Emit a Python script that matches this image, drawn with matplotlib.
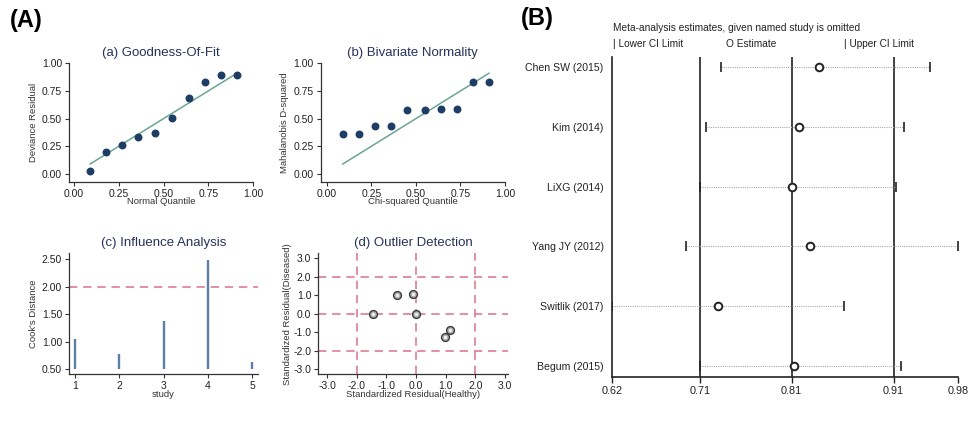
import matplotlib
matplotlib.use("Agg")
import matplotlib.pyplot as plt
import numpy as np

plt.rcParams['font.family'] = ['Liberation Sans', 'DejaVu Sans']

# ---------------- data ----------------
# (a) Goodness-of-fit
gof_x = [0.09, 0.18, 0.27, 0.36, 0.45, 0.55, 0.64, 0.73, 0.82, 0.91]
gof_y = [0.03, 0.20, 0.26, 0.33, 0.37, 0.51, 0.69, 0.83, 0.89, 0.89]
# (b) Bivariate normality
bvn_x = [0.09, 0.18, 0.27, 0.36, 0.45, 0.55, 0.64, 0.73, 0.82, 0.91]
bvn_y = [0.36, 0.36, 0.43, 0.43, 0.58, 0.58, 0.59, 0.59, 0.83, 0.83]
# (c) Influence analysis
study = [1, 2, 3, 4, 5]
cooks = [1.06, 0.77, 1.38, 2.49, 0.64]
cooks_base = 0.5
cooks_thresh = 2.0
# (d) Outlier detection
res_healthy = [-1.44, -0.64, -0.09, 0.0, 1.14, 0.97]
res_diseased = [0.0, 1.03, 1.05, 0.0, -0.87, -1.29]
outlier_lines = [-2.0, 0.0, 2.0]
# (B) Sensitivity analysis
studies = ["Chen SW (2015)", "Kim (2014)", "LiXG (2014)",
           "Yang JY (2012)", "Switlik (2017)", "Begum (2015)"]
est = [0.835, 0.815, 0.807, 0.826, 0.730, 0.809]
lower = [0.733, 0.718, 0.712, 0.697, 0.620, 0.712]
upper = [0.951, 0.924, 0.916, 0.980, 0.861, 0.921]
ref_lines = [0.712, 0.807, 0.913]
b_ticks = [0.62, 0.712, 0.807, 0.913, 0.98]
b_ticklabels = ["0.62", "0.71", "0.81", "0.91", "0.98"]

# ---------------- figure ----------------
W, H = 973, 422
fig = plt.figure(figsize=(W / 100, H / 100), dpi=100)
fig.patch.set_facecolor("white")


def ax_px(l, t, r, b):
    return fig.add_axes([l / W, 1 - b / H, (r - l) / W, (b - t) / H])


title_col = "#27315c"
axis_col = "#333333"
navy = "#1d3d66"
teal = "#6aa594"
pink = "#dd7d91"
steel = "#5b7fa6"


def style(ax, fs=7.5):
    for s in ["top", "right"]:
        ax.spines[s].set_visible(False)
    for s in ["left", "bottom"]:
        ax.spines[s].set_color(axis_col)
        ax.spines[s].set_linewidth(0.9)
    ax.tick_params(axis="both", colors=axis_col, labelsize=fs, length=3,
                   width=0.8, pad=2, labelcolor="#222222")
    ax.set_facecolor("white")


# (a)
ax = ax_px(69, 63.3, 253, 181.7)
style(ax)
ax.scatter(gof_x, gof_y, s=22, color=navy, zorder=3)
ax.plot([gof_x[0], gof_x[-1]], [gof_x[0], gof_x[-1]], color=teal, lw=1.1)
ax.set_xlim(-0.028, 1.0)
ax.set_ylim(-0.07, 1.0)
ax.set_xticks([0, 0.25, 0.5, 0.75, 1.0])
ax.set_yticks([0, 0.25, 0.5, 0.75, 1.0])
ax.set_xticklabels(["0.00", "0.25", "0.50", "0.75", "1.00"])
ax.set_yticklabels(["0.00", "0.25", "0.50", "0.75", "1.00"])
ax.set_xlabel("Normal Quantile", fontsize=6.8, labelpad=-1, color="#333333")
ax.set_ylabel("Deviance Residual", fontsize=6.8, labelpad=3, color="#333333")
ax.set_title("(a) Goodness-Of-Fit", fontsize=9.5, color=title_col, pad=5)

# (b)
ax = ax_px(320.7, 63.3, 505, 181.7)
style(ax)
ax.scatter(bvn_x, bvn_y, s=22, color=navy, zorder=3)
ax.plot([bvn_x[0], bvn_x[-1]], [bvn_x[0], bvn_x[-1]], color=teal, lw=1.1)
ax.set_xlim(-0.034, 1.0)
ax.set_ylim(-0.07, 1.0)
ax.set_xticks([0, 0.25, 0.5, 0.75, 1.0])
ax.set_yticks([0, 0.25, 0.5, 0.75, 1.0])
ax.set_xticklabels(["0.00", "0.25", "0.50", "0.75", "1.00"])
ax.set_yticklabels(["0.00", "0.25", "0.50", "0.75", "1.00"])
ax.set_xlabel("Chi-squared Quantile", fontsize=6.8, labelpad=-1, color="#333333")
ax.set_ylabel("Mahalanobis D-squared", fontsize=6.8, labelpad=3, color="#333333")
ax.set_title("(b) Bivariate Normality", fontsize=9.5, color=title_col, pad=5)

# (c)
ax = ax_px(69, 252.7, 258, 374)
style(ax)
ax.vlines(study, cooks_base, cooks, color=steel, lw=1.7)
ax.axhline(cooks_thresh, color=pink, lw=1.2, ls=(0, (5, 3.5)))
ax.set_xlim(0.865, 5.13)
ax.set_ylim(0.415, 2.62)
ax.set_xticks(study)
ax.set_yticks([0.5, 1.0, 1.5, 2.0, 2.5])
ax.set_yticklabels(["0.50", "1.00", "1.50", "2.00", "2.50"])
ax.set_xlabel("study", fontsize=6.8, labelpad=-1, color="#333333")
ax.set_ylabel("Cook's Distance", fontsize=6.8, labelpad=3, color="#333333")
ax.set_title("(c) Influence Analysis", fontsize=9.5, color=title_col, pad=5)

# (d)
ax = ax_px(318.3, 253.3, 508, 374)
style(ax)
for v in outlier_lines:
    ax.axhline(v, color=pink, lw=1.2, ls=(0, (5, 3.5)), zorder=1)
    ax.axvline(v, color=pink, lw=1.2, ls=(0, (5, 3.5)), zorder=1)
ax.scatter(res_healthy, res_diseased, s=32, facecolor="#b0b0b0",
           edgecolor="#3a3a3a", lw=1.0, zorder=3)
ax.scatter(res_healthy, res_diseased, s=2, color="#f0f0f0", zorder=4)
ax.set_xlim(-3.30, 3.10)
ax.set_ylim(-3.27, 3.27)
ticks = [-3, -2, -1, 0, 1, 2, 3]
ax.set_xticks(ticks)
ax.set_yticks(ticks)
ax.set_xticklabels(["%.1f" % t for t in ticks])
ax.set_yticklabels(["%.1f" % t for t in ticks])
ax.set_xlabel("Standardized Residual(Healthy)", fontsize=6.8, labelpad=-1,
              color="#333333")
ax.set_ylabel("Standardized Residual(Diseased)", fontsize=6.8, labelpad=1,
              color="#333333")
ax.set_title("(d) Outlier Detection", fontsize=9.5, color=title_col, pad=5)

# panel letters
fig.text(10 / W, 1 - 20 / H, "(A)", fontsize=17, fontweight="bold",
         va="center", ha="left")
fig.text(521 / W, 1 - 18 / H, "(B)", fontsize=17, fontweight="bold",
         va="center", ha="left")

# (B)
narrow = ['Liberation Sans Narrow', 'Liberation Sans', 'DejaVu Sans']
axb = ax_px(612, 57, 958, 376.7)
for s in ["top", "right"]:
    axb.spines[s].set_visible(False)
for s in ["left", "bottom"]:
    axb.spines[s].set_color("#222222")
    axb.spines[s].set_linewidth(1.2)
ypos = np.arange(len(studies), 0, -1)
for v in ref_lines:
    axb.axvline(v, color="#222222", lw=1.2, zorder=1)
axb.hlines(ypos, lower, upper, color="#aaaaaa", lw=0.8, ls=(0, (1, 1)), zorder=2)
axb.scatter(lower, ypos, marker="|", s=60, color="#222222", lw=1.2, zorder=3)
axb.scatter(upper, ypos, marker="|", s=60, color="#222222", lw=1.2, zorder=3)
axb.scatter(est, ypos, marker="o", s=30, facecolor="white",
            edgecolor="#222222", lw=1.4, zorder=4)
axb.set_xlim(0.62, 0.98)
axb.set_ylim(0.82, 6.17)
axb.set_yticks(ypos)
axb.set_yticklabels(studies, family=narrow, fontsize=7.6)
axb.set_xticks(b_ticks)
axb.set_xticklabels(b_ticklabels, family=narrow, fontsize=7.8)
axb.tick_params(axis="y", length=0, pad=6, colors="#222222")
axb.tick_params(axis="x", length=4, width=1.0, pad=3, colors="#222222")

fs_leg = 7.3
fig.text(613 / W, 1 - 28 / H,
         "Meta-analysis estimates, given named study is omitted",
         family=narrow, fontsize=fs_leg, va="center", ha="left", color="#222222")
fig.text(613 / W, 1 - 44 / H, "| Lower CI Limit", family=narrow, fontsize=fs_leg,
         va="center", ha="left", color="#222222")
fig.text(726 / W, 1 - 44 / H, "O Estimate", family=narrow, fontsize=fs_leg,
         va="center", ha="left", color="#222222")
fig.text(844 / W, 1 - 44 / H, "| Upper CI Limit", family=narrow, fontsize=fs_leg,
         va="center", ha="left", color="#222222")

fig.savefig("out.png", dpi=100, facecolor="white")
